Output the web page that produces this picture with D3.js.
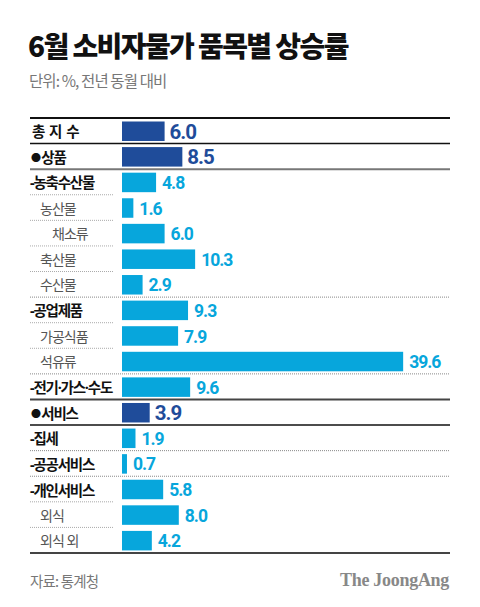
<!DOCTYPE html>
<html><head><meta charset="utf-8">
<script src="https://cdn.jsdelivr.net/npm/d3@7"></script>
<style>
html,body{margin:0;padding:0;background:#fff;}
svg{display:block;}
</style></head>
<body>
<script>
// ---- data ----
const categories = ["총 지 수","●상품","-농축수산물","농산물","채소류","축산물","수산물","-공업제품","가공식품","석유류","-전기·가스·수도","●서비스","-집세","-공공서비스","-개인서비스","외식","외식 외"];
const levels = [0,1,2,3,4,3,3,2,3,3,2,1,2,2,2,3,3];
const values = [6.0,8.5,4.8,1.6,6.0,10.3,2.9,9.3,7.9,39.6,9.6,3.9,1.9,0.7,5.8,8.0,4.2];
const valueLabels = ["6.0","8.5","4.8","1.6","6.0","10.3","2.9","9.3","7.9","39.6","9.6","3.9","1.9","0.7","5.8","8.0","4.2"];
const title = "6월 소비자물가 품목별 상승률";
const subtitle = "단위: %, 전년 동월 대비";
const source = "자료: 통계청";
const brand = "The JoongAng";

const W = 480, H = 607;
const svg = d3.select("body").append("svg").attr("width", W).attr("height", H);
const KR = "'Noto Sans CJK KR','Noto Sans',sans-serif";
const LABF = "'Noto Sans','Noto Sans CJK KR',sans-serif";
const DARK = "#1f4c9a", LIGHT = "#07a6dc";

const y = d3.scaleBand().domain(d3.range(categories.length)).range([118, 553]).padding(0);
const x = d3.scaleLinear().domain([0, 40]).range([122, 406]);
const step = y.step();

// title
svg.append("text").attr("x", 28).attr("y", 57).text(title)
  .attr("font-family", KR).attr("font-weight", 900).attr("font-size", 28)
  .attr("letter-spacing", -1.6).attr("fill", "#111");
svg.append("text").attr("x", 29).attr("y", 87).text(subtitle)
  .attr("font-family", KR).attr("font-size", 15.5).attr("letter-spacing", -0.9).attr("fill", "#777");

// separators
const g = svg.append("g");
categories.forEach((c, i) => {
  if (i === categories.length - 1) return;
  const yy = y(i) + step;
  const next = levels[i + 1];
  let style;
  if (i === 0) style = {c:"#111", w:1.5, full:true};
  else if (i === 1) style = {c:"#777", w:2, full:true};
  else if (next === 1) style = {c:"#444", w:2, full:true};
  else if (i === 11) style = {c:"#111", w:1.5, full:true};
  else if (next <= 2) style = {c:"#888", w:1, full:true, dot:true};
  else style = {c:"#aaa", w:1, full:false, dot:true};
  g.append("line").attr("x1", 30).attr("x2", style.full ? 450 : 113)
    .attr("y1", yy).attr("y2", yy)
    .attr("stroke", style.c).attr("stroke-width", style.w)
    .attr("stroke-dasharray", style.dot ? "1,1" : null);
});
// top and bottom lines
svg.append("line").attr("x1", 30).attr("x2", 450).attr("y1", 118).attr("y2", 118).attr("stroke", "#111").attr("stroke-width", 2);
svg.append("line").attr("x1", 30).attr("x2", 450).attr("y1", 553).attr("y2", 553).attr("stroke", "#444").attr("stroke-width", 2);

// bars
svg.append("g").selectAll("rect").data(values).join("rect")
  .attr("x", x(0)).attr("y", (d, i) => y(i) + 3.5)
  .attr("width", d => x(d) - x(0)).attr("height", 19.5)
  .attr("fill", (d, i) => levels[i] <= 1 ? DARK : LIGHT);

// value labels
svg.append("g").selectAll("text").data(values).join("text")
  .attr("x", (d, i) => x(d) + (levels[i] <= 1 ? 5 : 6))
  .attr("y", (d, i) => y(i) + step / 2 + 1)
  .attr("dominant-baseline", "central")
  .text((d, i) => valueLabels[i])
  .attr("font-family", "Roboto, 'Liberation Sans', sans-serif").attr("font-weight", 700)
  .attr("font-size", (d, i) => levels[i] <= 1 ? 20.5 : 17.5)
  .attr("letter-spacing", -1)
  .attr("fill", (d, i) => levels[i] <= 1 ? DARK : LIGHT);

// category labels
const indent = {0: 32, 1: 31, 2: 30, 3: 40, 4: 52};
const lab = svg.append("g").selectAll("text").data(categories).join("text")
  .attr("x", (d, i) => indent[levels[i]])
  .attr("y", (d, i) => y(i) + step / 2 + 0.5)
  .attr("dominant-baseline", "central")
  .attr("font-family", LABF)
  .attr("font-weight", (d, i) => levels[i] <= 2 ? 700 : 400)
  .attr("font-size", (d, i) => levels[i] <= 2 ? 14.5 : 14)
  .attr("letter-spacing", (d, i) => levels[i] === 0 ? 0 : (levels[i] <= 2 ? -1.2 : -1))
  .attr("fill", (d, i) => levels[i] <= 2 ? "#111" : "#555");
lab.each(function(d, i) {
  const t = d3.select(this);
  if (d.startsWith("●")) {
    t.append("tspan").attr("font-size", 10).attr("font-family", KR).text("●");
    t.append("tspan").attr("font-size", 14.5).attr("dx", 1.5).text(d.slice(1));
  } else {
    t.text(d);
  }
});

// footer
svg.append("text").attr("x", 30).attr("y", 587).text(source)
  .attr("font-family", KR).attr("font-size", 14.5).attr("letter-spacing", -0.8).attr("fill", "#777");
svg.append("text").attr("x", 449).attr("y", 586).attr("text-anchor", "end").text(brand)
  .attr("font-family", "'Liberation Serif','DejaVu Serif',serif").attr("font-weight", 700)
  .attr("font-size", 18).attr("letter-spacing", -0.3).attr("fill", "#888");
</script>
</body></html>
